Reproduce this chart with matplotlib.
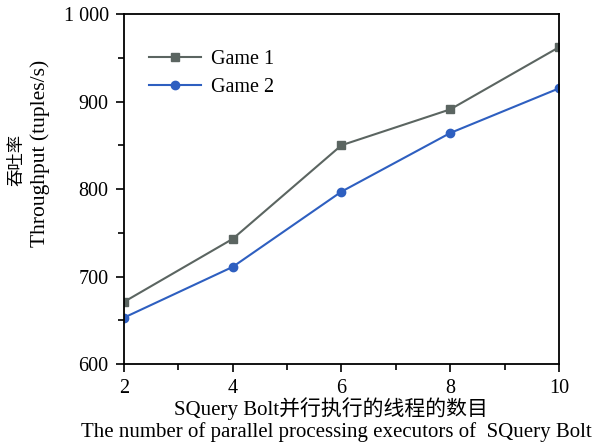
import matplotlib.pyplot as plt
from matplotlib.ticker import MultipleLocator, FuncFormatter

executors = [2, 4, 6, 8, 10]
game1 = [671, 743, 850, 891, 962]
game2 = [653, 711, 797, 864, 915]
series_labels = ["Game 1", "Game 2"]

xlabel_cn = "SQuery Bolt并行执行的线程的数目"
xlabel_en = "The number of parallel processing executors of  SQuery Bolt"
ylabel_cn = "吞吐率"
ylabel_en = "Throughput (tuples/s)"

serif = ["Liberation Serif", "Noto Sans CJK SC"]
plt.rcParams['font.family'] = serif

fig = plt.figure(figsize=(6.01, 4.45), dpi=100)
ax = fig.add_axes([0.2063, 0.182, 0.7237, 0.7865])

ax.plot(executors, game1, color="#5b6561", marker="s", markersize=5.5, lw=1.5, label=series_labels[0])
ax.plot(executors, game2, color="#2e5fc0", marker="o", markersize=6, lw=1.5, label=series_labels[1])

ax.set_xlim(2, 10)
ax.set_ylim(600, 1000)
ax.xaxis.set_major_locator(MultipleLocator(2))
ax.xaxis.set_minor_locator(MultipleLocator(1))
ax.yaxis.set_major_locator(MultipleLocator(100))
ax.yaxis.set_minor_locator(MultipleLocator(50))
ax.yaxis.set_major_formatter(FuncFormatter(lambda v, p: f"{int(v):,}".replace(",", " ")))
ax.tick_params(which="both", direction="out", top=False, right=False, width=1.2)
ax.tick_params(which="major", length=6, labelsize=14.5, pad=5)
ax.tick_params(which="minor", length=4)
for s in ax.spines.values():
    s.set_linewidth(1.3)

ax.legend(loc="upper left", frameon=False, fontsize=14.5, handlelength=2.6,
          handletextpad=0.5, bbox_to_anchor=(0.015, 0.95), labelspacing=0.45)

# axis titles, Chinese line above English line
fig.text(331 / 601, 1 - 409 / 445, xlabel_cn, fontsize=15, ha="center", va="center")
fig.text(336 / 601, 1 - 432 / 445, xlabel_en, fontsize=15, ha="center", va="center")
fig.text(17 / 601, 1 - 160 / 445, ylabel_cn, fontsize=12.5, ha="center", va="center", rotation=90)
fig.text(40 / 601, 1 - 153 / 445, ylabel_en, fontsize=15.5, ha="center", va="center", rotation=90)

fig.savefig("out.png", dpi=100)
